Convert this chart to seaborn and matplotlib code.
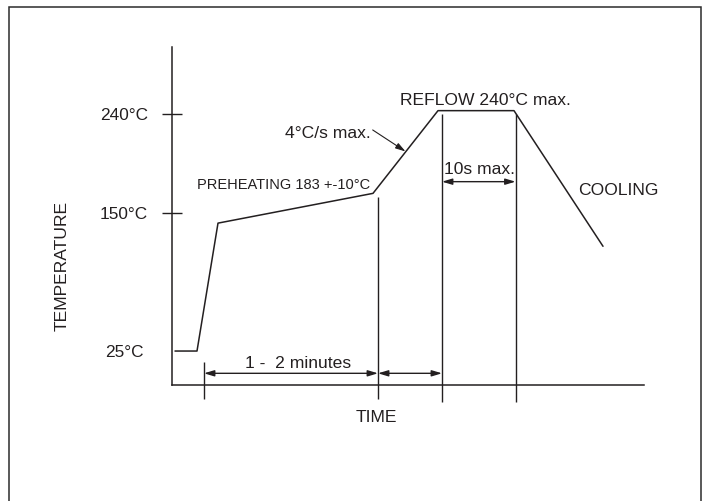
import matplotlib
matplotlib.use("Agg")
import matplotlib.pyplot as plt
import matplotlib.patches as mpatches
import seaborn as sns
import pandas as pd

# ---- data ----
profile_time = [3, 25, 46, 201, 266, 342, 431]        # arbitrary time units
profile_temp = [25, 25, 141, 168, 243, 243, 120]      # degC
ytick_values = [25, 150, 240]
ytick_labels = ["25°C", "150°C", "240°C"]
marker_times = [32, 206, 270, 343.5]                  # vertical guide lines
marker_tops = [15, 165, 240, 240]
marker_bottoms = [-18.5, -18.5, -21.5, -21.5]

INK = "#231f20"
FONT = ["Liberation Sans", "DejaVu Sans"]
FS = 12.6

sns.set_theme(style="white")
plt.rcParams["font.family"] = FONT
plt.rcParams["text.color"] = INK

fig = plt.figure(figsize=(7.07, 5.01), dpi=100)
fig.patch.set_facecolor("white")

# outer frame
fig.patches.append(mpatches.Rectangle((8.7 / 707, -0.05), (701.3 - 8.7) / 707, 1.05 - 6.7 / 501,
                                      transform=fig.transFigure, fill=False,
                                      edgecolor="#2b2b2b", linewidth=1.1))

ax = fig.add_axes([172 / 707, (501 - 385) / 501, 472 / 707, (385 - 46.7) / 501])
ax.set_facecolor("none")

df = pd.DataFrame({"time": profile_time, "temp": profile_temp})
sns.lineplot(data=df, x="time", y="temp", sort=False, estimator=None,
             color=INK, linewidth=1.1, ax=ax)

ax.set_xlim(0, 472)
ax.set_ylim(-5.8, 301)

for side in ["top", "right"]:
    ax.spines[side].set_visible(False)
for side in ["left", "bottom"]:
    ax.spines[side].set_color(INK)
    ax.spines[side].set_linewidth(1.1)

ax.set_xticks([])
ax.set_yticks(ytick_values)
ax.set_yticklabels(ytick_labels, fontsize=12.4, color=INK)
ax.tick_params(axis="y", direction="inout", length=13.7, width=1.0, color=INK, pad=10.4, left=True)
ticks = ax.yaxis.get_major_ticks()
ticks[0].tick1line.set_visible(False)
ticks[0].set_pad(13.3)

ax.set_xlabel("TIME", fontsize=FS, color=INK)
ax.xaxis.set_label_coords((376.5 - 172) / 472, (385 - 421.7) / 338.3)
ax.xaxis.label.set_va("baseline")
ax.xaxis.label.set_ha("center")

ax.set_ylabel("TEMPERATURE", fontsize=FS, color=INK)
ax.yaxis.set_label_coords((66.5 - 172) / 472, (385 - 266) / 338.3)
ax.yaxis.label.set_rotation_mode("anchor")
ax.yaxis.label.set_ha("center")
ax.yaxis.label.set_va("baseline")

# vertical guide lines
ax.vlines(marker_times, marker_bottoms, marker_tops, colors=INK, linewidth=1.0, clip_on=False)

# dimension arrows
arrow_kw = dict(arrowstyle="<|-|>,head_length=0.6,head_width=0.18", color=INK,
                lw=1.0, shrinkA=0, shrinkB=0, mutation_scale=10)
ax.annotate("", xy=(marker_times[1], 4.8), xytext=(marker_times[0], 4.8),
            arrowprops=arrow_kw, annotation_clip=False)
ax.annotate("", xy=(marker_times[2], 4.8), xytext=(marker_times[1], 4.8),
            arrowprops=arrow_kw, annotation_clip=False)
ax.annotate("", xy=(marker_times[3], 178.6), xytext=(marker_times[2], 178.6),
            arrowprops=arrow_kw, annotation_clip=False)

# slope pointer
ax.annotate("", xy=(233.5, 206.0), xytext=(200.7, 225.5),
            arrowprops=dict(arrowstyle="-|>,head_length=0.6,head_width=0.18", color=INK,
                            lw=0.8, shrinkA=0, shrinkB=0, mutation_scale=10))

# texts
ax.text(313.5, 248.2, "REFLOW 240°C max.", ha="center", va="baseline", fontsize=FS, color=INK)
ax.text(198.7, 218.0, "4°C/s max.", ha="right", va="baseline", fontsize=FS, color=INK)
ax.text(198.0, 171.7, "PREHEATING 183 +-10°C", ha="right", va="baseline",
        fontsize=10.5, color=INK)
ax.text(307.0, 185.6, "10s max.", ha="center", va="baseline", fontsize=FS, color=INK)
ax.text(405.7, 166.5, "COOLING", ha="left", va="baseline", fontsize=FS, color=INK)
ax.text(125.9, 9.3, "1 -  2 minutes", ha="center", va="baseline", fontsize=FS, color=INK)

fig.savefig("out.png", dpi=100)
